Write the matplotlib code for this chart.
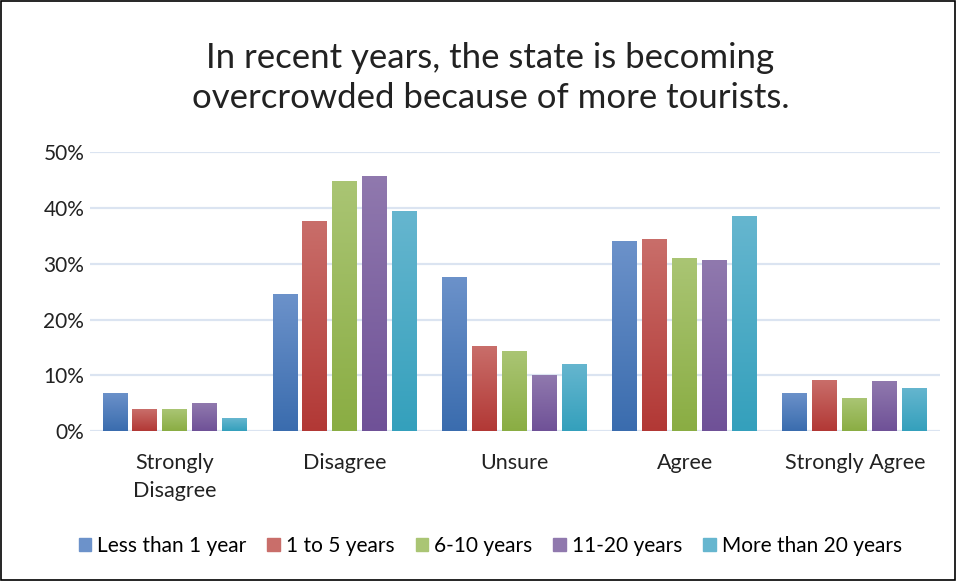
import numpy as np
import matplotlib
matplotlib.use("Agg")
import matplotlib.pyplot as plt
from matplotlib.colors import LinearSegmentedColormap
from matplotlib.patches import Rectangle

plt.rcParams["font.family"] = ["Lato", "DejaVu Sans"]

categories = ["Strongly\nDisagree", "Disagree", "Unsure", "Agree", "Strongly Agree"]
series_names = ["Less than 1 year", "1 to 5 years", "6-10 years", "11-20 years", "More than 20 years"]

less_1 = [6.9, 24.5, 27.7, 34.0, 6.9]
yrs_1_5 = [3.9, 37.6, 15.2, 34.4, 9.1]
yrs_6_10 = [3.9, 44.9, 14.3, 31.1, 5.9]
yrs_11_20 = [5.0, 45.8, 10.0, 30.6, 8.9]
more_20 = [2.3, 39.4, 12.1, 38.5, 7.8]

# top / bottom shades for the gradient fill of each series
shades = [
    ("#6c92ca", "#3a6cae"),
    ("#c96e6a", "#b23835"),
    ("#aac574", "#8aad43"),
    ("#9079ae", "#6f5197"),
    ("#66b6cf", "#34a0bc"),
]

fig = plt.figure(figsize=(9.56, 5.81), dpi=100)
ax = fig.add_axes([0.094, 0.258, 0.889, 0.48])

x = np.arange(len(categories))
step = 0.176
width = 0.147
data = [less_1, yrs_1_5, yrs_6_10, yrs_11_20, more_20]

grad = np.linspace(1, 0, 256).reshape(-1, 1)
for i, (vals, name, (top, bottom)) in enumerate(zip(data, series_names, shades)):
    cmap = LinearSegmentedColormap.from_list(name, [bottom, top])
    bars = ax.bar(x + (i - 2) * step, vals, width, color=top, label=name, zorder=2)
    for b in bars:
        x0, h = b.get_x(), b.get_height()
        im = ax.imshow(grad, cmap=cmap, aspect="auto", zorder=3,
                       extent=[x0, x0 + b.get_width(), 0, h], origin="upper")
        im.set_clip_path(b)

ax.set_xlim(-0.5, 4.5)
ax.set_ylim(0, 50)
ax.set_yticks(range(0, 51, 10))
ax.set_yticklabels([f"{v}%" for v in range(0, 51, 10)], fontsize=15, color="#222222")
ax.set_xticks(x)
ax.set_xticklabels(categories, fontsize=15.5, color="#222222", linespacing=1.45)
ax.tick_params(axis="y", length=0, pad=4)
ax.tick_params(axis="x", length=0, pad=16)
ax.grid(axis="y", color="#dbe4f1", linewidth=1.6, zorder=0)
for s in ax.spines.values():
    s.set_visible(False)

fig.text(0.513, 0.866, "In recent years, the state is becoming\novercrowded because of more tourists.",
         ha="center", va="center", fontsize=25, color="#222222", linespacing=1.3)

handles = [Rectangle((0, 0), 1, 1, color=top) for top, _ in shades]
fig.legend(handles, series_names, loc="center", bbox_to_anchor=(0.513, 0.06),
           ncol=5, frameon=False, fontsize=15, handlelength=0.6, handleheight=0.6,
           handletextpad=0.3, columnspacing=1.0)

fig.add_artist(Rectangle((0.001, 0.001), 0.998, 0.998, transform=fig.transFigure,
                         fill=False, edgecolor="black", linewidth=1.2))

fig.savefig("out.png", dpi=100)
